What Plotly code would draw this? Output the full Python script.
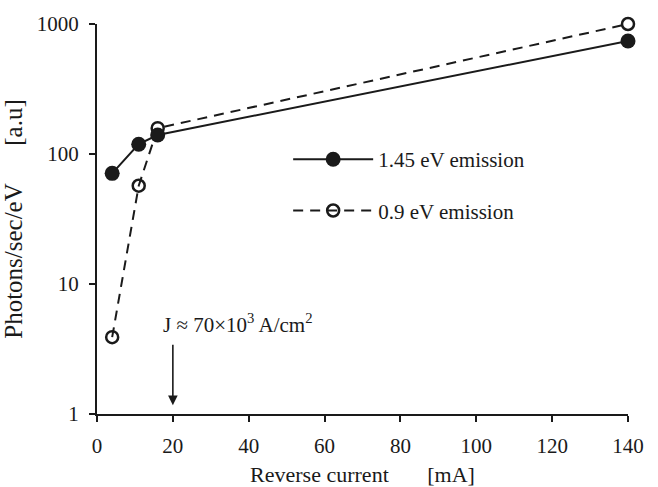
import numpy as np
import plotly.graph_objects as go

# Measured emission vs reverse current
current_ma = [4, 11, 16, 140]
emission_145 = [71, 119, 140, 740]
emission_09 = [3.9, 57, 158, 1000]

y_ticks = [1, 10, 100, 1000]
x_ticks = [0, 20, 40, 60, 80, 100, 120, 140]

FONT = '"Liberation Serif", "Times New Roman", Times, serif'
INK = "#1a1a1a"
FS = 21

fig = go.Figure()

# open markers first so the filled markers sit on top
fig.add_trace(go.Scatter(
    x=current_ma, y=emission_09, name="0.9 eV emission",
    mode="lines+markers", legendgroup="b", legendrank=2,
    line=dict(color=INK, width=2, dash="10px,7px"),
    marker=dict(symbol="circle-open", size=12, color=INK, line=dict(width=2.5)),
    cliponaxis=False,
))
fig.add_trace(go.Scatter(
    x=current_ma, y=emission_145, name="1.45 eV emission",
    mode="lines+markers", legendgroup="a", legendrank=1,
    line=dict(color=INK, width=2),
    marker=dict(symbol="circle", size=15, color=INK),
    cliponaxis=False,
))

# current-density marker
fig.add_annotation(x=20, y=np.log10(1.17), ax=0, ay=-62, text="",
                   showarrow=True, arrowhead=2, arrowsize=1.2, arrowwidth=1.6,
                   arrowcolor=INK)
fig.add_annotation(x=17.0, y=np.log10(4.95),
                   text="J ≈ 70×10<sup>3</sup> A/cm<sup>2</sup>",
                   showarrow=False, xanchor="left", yanchor="middle",
                   font=dict(family=FONT, size=FS, color=INK))

fig.update_layout(
    width=658, height=487,
    margin=dict(l=97, r=30, t=24, b=73),
    paper_bgcolor="white", plot_bgcolor="white",
    font=dict(family=FONT, size=FS, color=INK),
    showlegend=True,
    legend=dict(x=0.36, y=0.705, xanchor="left", yanchor="top",
                traceorder="grouped", tracegroupgap=21,
                itemwidth=80, bgcolor="rgba(0,0,0,0)",
                font=dict(family=FONT, size=FS, color=INK)),
    xaxis=dict(range=[0, 140], tickvals=x_ticks, showgrid=False, zeroline=False,
               showline=True, linecolor=INK, linewidth=2, automargin=False,
               ticks="outside", ticklen=6, tickwidth=2, tickcolor=INK,
               ticklabelstandoff=6,
               title=dict(text="Reverse current" + "\u00a0" * 7 + "[mA]",
                          font=dict(family=FONT, size=22, color=INK))),
    yaxis=dict(type="log", range=[0, 3], tickvals=y_ticks,
               ticktext=[str(v) for v in y_ticks], showgrid=False, zeroline=False,
               showline=True, linecolor=INK, linewidth=2, automargin=False,
               ticks="outside", ticklen=6, tickwidth=2, tickcolor=INK,
               ticklabelstandoff=6,
               title=dict(text="Photons/sec/eV" + "\u00a0" * 6 + "[a.u]",
                          font=dict(family=FONT, size=25, color=INK))),
)

fig.write_html("out.html")
